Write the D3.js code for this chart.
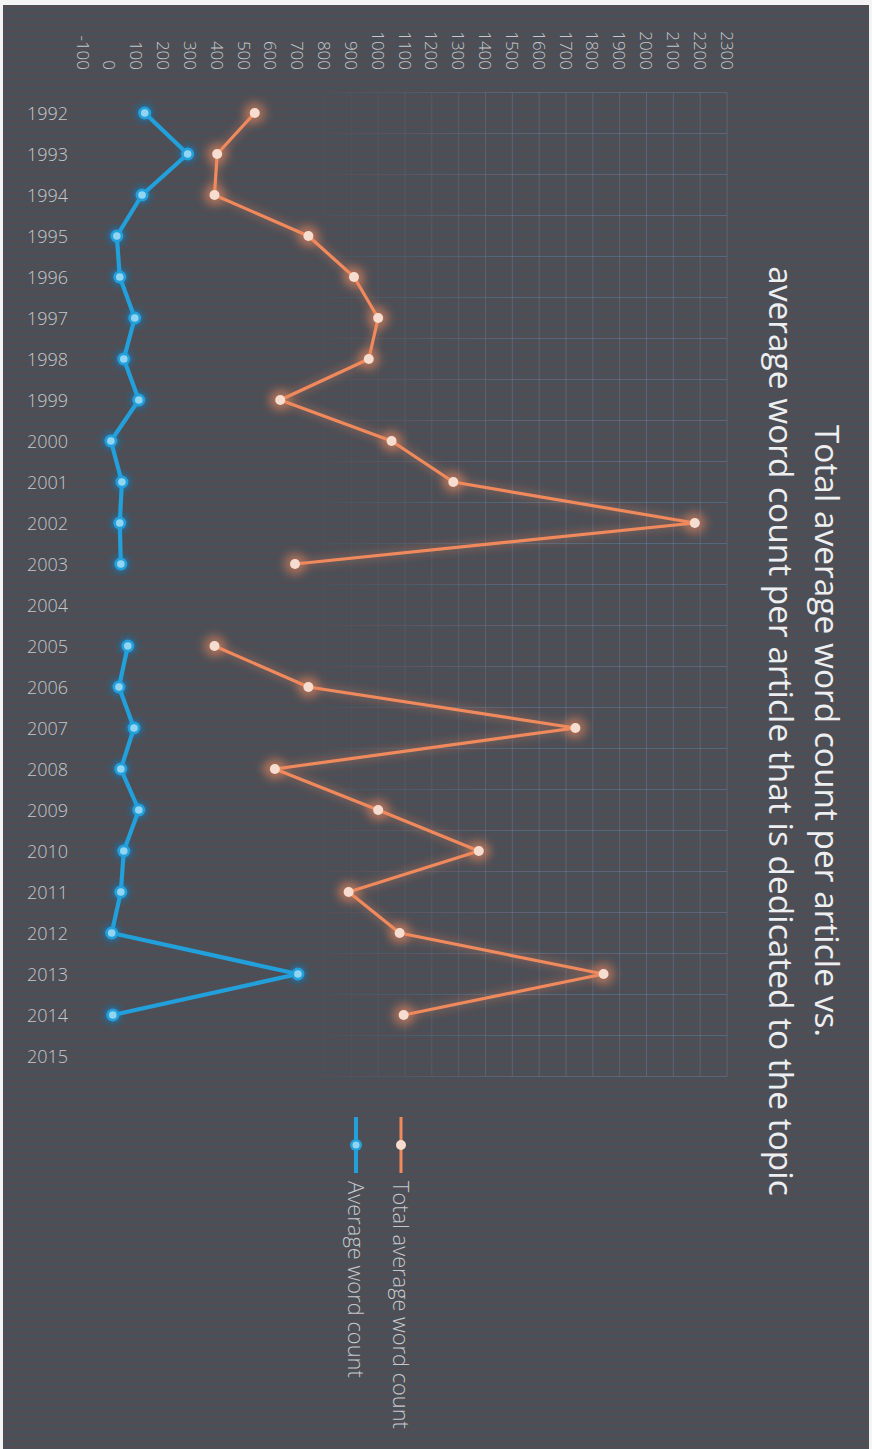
<!DOCTYPE html>
<html>
<head>
<meta charset="utf-8">
<script src="https://cdn.jsdelivr.net/npm/d3@7"></script>
<style>
  html, body { margin: 0; padding: 0; background: #f4f4f4; }
  svg { display: block; }
</style>
</head>
<body>
<svg id="chart" width="872" height="1449"></svg>
<script>
// valores (2004 e 2015 sem dados)
const YEARS = ["1992", "1993", "1994", "1995", "1996", "1997", "1998", "1999", "2000", "2001", "2002", "2003",
  "2004", "2005", "2006", "2007", "2008", "2009", "2010", "2011", "2012", "2013", "2014", "2015"];
const TOTAL_AVG = [540, 400, 390, 740, 910, 1000, 965, 635, 1050, 1280, 2180, 690,
  null, 390, 740, 1735, 615, 1000, 1375, 890, 1080, 1840, 1095, null];
const TOPIC_AVG = [130, 290, 120, 26, 37, 93, 52, 108, 4, 45, 37, 41,
  null, 67, 34, 90, 41, 108, 52, 41, 7, 701, 11, null];
const VALUE_TICKS = [-100, 0, 100, 200, 300, 400, 500, 600, 700, 800, 900, 1000, 1100, 1200,
  1300, 1400, 1500, 1600, 1700, 1800, 1900, 2000, 2100, 2200, 2300];
const SERIES_NAMES = ["Total average word count", "Average word count"];
const TITLE_LINES = ["Total average word count per article vs.", "average word count per article that is dedicated to the topic"];

const FONT = "'Open Sans', 'Noto Sans', sans-serif";
const ORANGE = "#f08a5d";
const BLUE = "#22a0dc";
const TEXT = "#c4c8cc";

const svg = d3.select("#chart");
const defs = svg.append("defs");

// listras horizontais do scan
const stripes = defs.append("pattern")
  .attr("id", "scan").attr("width", 8).attr("height", 6).attr("patternUnits", "userSpaceOnUse");
stripes.append("rect").attr("width", 8).attr("height", 6).attr("fill", "#4a5057");
stripes.append("rect").attr("y", 0).attr("width", 8).attr("height", 2).attr("fill", "#554b52");

function glow(id, sd) {
  const f = defs.append("filter").attr("id", id)
    .attr("x", "-50%").attr("y", "-50%").attr("width", "200%").attr("height", "200%");
  f.append("feGaussianBlur").attr("stdDeviation", sd);
}
glow("blurO", 4.5);
glow("blurB", 3);
glow("blurL", 3.5);

// grade aparece mais forte na parte direita
const gradMask = defs.append("linearGradient").attr("id", "gridFade")
  .attr("gradientUnits", "userSpaceOnUse").attr("x1", 300).attr("x2", 520).attr("y1", 0).attr("y2", 0);
gradMask.append("stop").attr("offset", 0).attr("stop-color", "#fff").attr("stop-opacity", 0);
gradMask.append("stop").attr("offset", 1).attr("stop-color", "#fff").attr("stop-opacity", 1);
defs.append("mask").attr("id", "gridMask").attr("maskUnits", "userSpaceOnUse")
  .append("rect").attr("width", 872).attr("height", 1449).attr("fill", "url(#gridFade)");

svg.append("rect").attr("x", 3).attr("y", 5).attr("width", 866).attr("height", 1444).attr("fill", "url(#scan)");

const x = d3.scaleLinear().domain([-100, 2300]).range([83, 727]);
const y = d3.scaleBand().domain(YEARS).range([92.5, 1076.5]);
const cy = (yr) => y(yr) + y.bandwidth() / 2;

// grade
const grid = svg.append("g").attr("mask", "url(#gridMask)")
  .attr("stroke", "#6d88ad").attr("stroke-opacity", 0.4).attr("stroke-width", 1);
grid.selectAll("line.v").data(VALUE_TICKS).join("line").attr("class", "v")
  .attr("x1", (d) => x(d)).attr("x2", (d) => x(d))
  .attr("y1", y.range()[0]).attr("y2", y.range()[1]);
grid.selectAll("line.h").data(YEARS.concat(["end"])).join("line").attr("class", "h")
  .attr("x1", x(-100)).attr("x2", x(2300))
  .attr("y1", (d, i) => y.range()[0] + i * y.step())
  .attr("y2", (d, i) => y.range()[0] + i * y.step());

// rotulos de valor (girados)
svg.append("g").selectAll("text").data(VALUE_TICKS).join("text")
  .attr("transform", (d) => `translate(${x(d)},70) rotate(90)`)
  .attr("text-anchor", "end")
  .attr("dominant-baseline", "central")
  .attr("font-family", FONT).attr("font-size", 17).attr("font-weight", 300)
  .attr("fill", TEXT)
  .text((d) => String(d));

// rotulos dos anos
svg.append("g").selectAll("text").data(YEARS).join("text")
  .attr("x", 68).attr("y", (d) => cy(d))
  .attr("text-anchor", "end").attr("dominant-baseline", "central")
  .attr("font-family", FONT).attr("font-size", 18).attr("font-weight", 300)
  .attr("fill", TEXT)
  .text((d) => d);

function seriesPoints(values) {
  return YEARS.map((yr, i) => ({ yr, v: values[i] }));
}
const line = d3.line().defined((d) => d.v != null).x((d) => x(d.v)).y((d) => cy(d.yr));

// serie total (laranja)
const totPts = seriesPoints(TOTAL_AVG);
const gO = svg.append("g");
gO.append("path").datum(totPts).attr("d", line).attr("fill", "none")
  .attr("stroke", ORANGE).attr("stroke-width", 10).attr("stroke-opacity", 0.2).attr("filter", "url(#blurL)");
gO.selectAll("circle.halo").data(totPts.filter((d) => d.v != null)).join("circle").attr("class", "halo")
  .attr("cx", (d) => x(d.v)).attr("cy", (d) => cy(d.yr)).attr("r", 11)
  .attr("fill", ORANGE).attr("fill-opacity", 0.5).attr("filter", "url(#blurO)");
gO.append("path").datum(totPts).attr("d", line).attr("fill", "none")
  .attr("stroke", ORANGE).attr("stroke-width", 3.2).attr("stroke-linejoin", "round");
gO.selectAll("circle.dot").data(totPts.filter((d) => d.v != null)).join("circle").attr("class", "dot")
  .attr("cx", (d) => x(d.v)).attr("cy", (d) => cy(d.yr)).attr("r", 5)
  .attr("fill", "#f6ddd0");

// serie media do topico (azul)
const topicPts = seriesPoints(TOPIC_AVG);
const gB = svg.append("g");
gB.selectAll("circle.halo").data(topicPts.filter((d) => d.v != null)).join("circle").attr("class", "halo")
  .attr("cx", (d) => x(d.v)).attr("cy", (d) => cy(d.yr)).attr("r", 9)
  .attr("fill", "#1479b8").attr("fill-opacity", 0.7).attr("filter", "url(#blurB)");
gB.append("path").datum(topicPts).attr("d", line).attr("fill", "none")
  .attr("stroke", BLUE).attr("stroke-width", 4.2).attr("stroke-linejoin", "round");
gB.selectAll("circle.ring").data(topicPts.filter((d) => d.v != null)).join("circle").attr("class", "ring")
  .attr("cx", (d) => x(d.v)).attr("cy", (d) => cy(d.yr)).attr("r", 6.5)
  .attr("fill", BLUE);
gB.selectAll("circle.dot").data(topicPts.filter((d) => d.v != null)).join("circle").attr("class", "dot")
  .attr("cx", (d) => x(d.v)).attr("cy", (d) => cy(d.yr)).attr("r", 3.8)
  .attr("fill", "#92d5f2");

// legenda
const legend = [
  { name: SERIES_NAMES[0], color: ORANGE, dot: "#f6ddd0", x: 401, len: 248 },
  { name: SERIES_NAMES[1], color: BLUE, dot: "#92d5f2", x: 356, len: 197 },
];
const gL = svg.append("g");
legend.forEach((d) => {
  gL.append("line").attr("x1", d.x).attr("x2", d.x).attr("y1", 1117).attr("y2", 1173)
    .attr("stroke", d.color).attr("stroke-width", d.color === BLUE ? 4 : 3);
  gL.append("circle").attr("cx", d.x).attr("cy", 1145).attr("r", d.color === BLUE ? 6 : 5)
    .attr("fill", d.color === BLUE ? BLUE : d.dot);
  if (d.color === BLUE) gL.append("circle").attr("cx", d.x).attr("cy", 1145).attr("r", 3.5).attr("fill", d.dot);
  const t = gL.append("text")
    .attr("transform", `translate(${d.x},1181) rotate(90)`)
    .attr("dominant-baseline", "central")
    .attr("font-family", FONT).attr("font-size", 16).attr("font-weight", 300)
    .attr("fill", TEXT).text(d.name);
  const w = t.node().getComputedTextLength();
  t.attr("font-size", 16 * d.len / w);
});

// titulo girado em duas linhas
const gT = svg.append("g").attr("transform", "translate(805,731) rotate(90)");
const titleTexts = TITLE_LINES.map((s, i) => gT.append("text")
  .attr("x", 0).attr("y", i === 0 ? -23 : 23)
  .attr("text-anchor", "middle").attr("dominant-baseline", "central")
  .attr("font-family", FONT).attr("font-size", 28)
  .attr("fill", "#eceef0").text(s));
const w2 = titleTexts[1].node().getComputedTextLength();
const fs = 28 * 930 / w2;
titleTexts.forEach((t) => t.attr("font-size", fs));
</script>
</body>
</html>
